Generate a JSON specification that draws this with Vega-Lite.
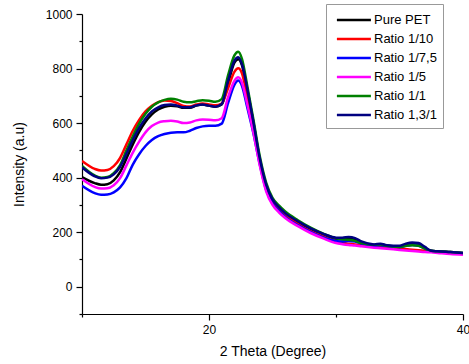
{
  "$schema": "https://vega.github.io/schema/vega-lite/v6.json",
  "width": 381,
  "height": 300,
  "autosize": {"type": "none"},
  "padding": {"left": 82, "top": 14, "right": 6, "bottom": 50},
  "background": "white",
  "config": {"view": {"stroke": null}, "font": "Liberation Sans"},
  "data": {"values": [
    {"x": 10, "Pure PET": 402, "Ratio 1/10": 461, "Ratio 1/7,5": 370, "Ratio 1/5": 394, "Ratio 1/1": 443, "Ratio 1,3/1": 438},
    {"x": 11, "Pure PET": 380, "Ratio 1/10": 432, "Ratio 1/7,5": 343, "Ratio 1/5": 366, "Ratio 1/1": 408, "Ratio 1,3/1": 405},
    {"x": 11.5, "Pure PET": 374, "Ratio 1/10": 426, "Ratio 1/7,5": 337, "Ratio 1/5": 360, "Ratio 1/1": 400, "Ratio 1,3/1": 398},
    {"x": 12, "Pure PET": 376, "Ratio 1/10": 428, "Ratio 1/7,5": 338, "Ratio 1/5": 361, "Ratio 1/1": 402, "Ratio 1,3/1": 400},
    {"x": 12.5, "Pure PET": 390, "Ratio 1/10": 442, "Ratio 1/7,5": 346, "Ratio 1/5": 372, "Ratio 1/1": 416, "Ratio 1,3/1": 412},
    {"x": 13, "Pure PET": 420, "Ratio 1/10": 472, "Ratio 1/7,5": 364, "Ratio 1/5": 398, "Ratio 1/1": 446, "Ratio 1,3/1": 440},
    {"x": 13.5, "Pure PET": 470, "Ratio 1/10": 522, "Ratio 1/7,5": 398, "Ratio 1/5": 445, "Ratio 1/1": 500, "Ratio 1,3/1": 488},
    {"x": 14, "Pure PET": 522, "Ratio 1/10": 572, "Ratio 1/7,5": 448, "Ratio 1/5": 492, "Ratio 1/1": 552, "Ratio 1,3/1": 538},
    {"x": 14.5, "Pure PET": 568, "Ratio 1/10": 612, "Ratio 1/7,5": 486, "Ratio 1/5": 532, "Ratio 1/1": 598, "Ratio 1,3/1": 582},
    {"x": 15, "Pure PET": 605, "Ratio 1/10": 643, "Ratio 1/7,5": 516, "Ratio 1/5": 566, "Ratio 1/1": 634, "Ratio 1,3/1": 617},
    {"x": 15.5, "Pure PET": 632, "Ratio 1/10": 664, "Ratio 1/7,5": 538, "Ratio 1/5": 589, "Ratio 1/1": 660, "Ratio 1,3/1": 643},
    {"x": 16, "Pure PET": 650, "Ratio 1/10": 677, "Ratio 1/7,5": 552, "Ratio 1/5": 602, "Ratio 1/1": 676, "Ratio 1,3/1": 658},
    {"x": 16.5, "Pure PET": 660, "Ratio 1/10": 683, "Ratio 1/7,5": 560, "Ratio 1/5": 607, "Ratio 1/1": 685, "Ratio 1,3/1": 666},
    {"x": 17, "Pure PET": 664, "Ratio 1/10": 681, "Ratio 1/7,5": 565, "Ratio 1/5": 609, "Ratio 1/1": 689, "Ratio 1,3/1": 668},
    {"x": 17.5, "Pure PET": 662, "Ratio 1/10": 673, "Ratio 1/7,5": 566, "Ratio 1/5": 606, "Ratio 1/1": 686, "Ratio 1,3/1": 664},
    {"x": 18, "Pure PET": 656, "Ratio 1/10": 663, "Ratio 1/7,5": 566, "Ratio 1/5": 600, "Ratio 1/1": 678, "Ratio 1,3/1": 658},
    {"x": 18.5, "Pure PET": 656, "Ratio 1/10": 661, "Ratio 1/7,5": 572, "Ratio 1/5": 602, "Ratio 1/1": 676, "Ratio 1,3/1": 658},
    {"x": 19, "Pure PET": 664, "Ratio 1/10": 668, "Ratio 1/7,5": 582, "Ratio 1/5": 610, "Ratio 1/1": 680, "Ratio 1,3/1": 665},
    {"x": 19.5, "Pure PET": 668, "Ratio 1/10": 672, "Ratio 1/7,5": 588, "Ratio 1/5": 613, "Ratio 1/1": 684, "Ratio 1,3/1": 668},
    {"x": 20, "Pure PET": 664, "Ratio 1/10": 668, "Ratio 1/7,5": 590, "Ratio 1/5": 612, "Ratio 1/1": 682, "Ratio 1,3/1": 664},
    {"x": 20.5, "Pure PET": 660, "Ratio 1/10": 665, "Ratio 1/7,5": 590, "Ratio 1/5": 610, "Ratio 1/1": 678, "Ratio 1,3/1": 660},
    {"x": 21, "Pure PET": 668, "Ratio 1/10": 672, "Ratio 1/7,5": 598, "Ratio 1/5": 618, "Ratio 1/1": 688, "Ratio 1,3/1": 670},
    {"x": 21.5, "Pure PET": 745, "Ratio 1/10": 728, "Ratio 1/7,5": 673, "Ratio 1/5": 695, "Ratio 1/1": 775, "Ratio 1,3/1": 755},
    {"x": 22, "Pure PET": 822, "Ratio 1/10": 788, "Ratio 1/7,5": 740, "Ratio 1/5": 755, "Ratio 1/1": 848, "Ratio 1,3/1": 828},
    {"x": 22.3, "Pure PET": 834, "Ratio 1/10": 801, "Ratio 1/7,5": 756, "Ratio 1/5": 768, "Ratio 1/1": 862, "Ratio 1,3/1": 841},
    {"x": 22.6, "Pure PET": 812, "Ratio 1/10": 782, "Ratio 1/7,5": 736, "Ratio 1/5": 748, "Ratio 1/1": 835, "Ratio 1,3/1": 815},
    {"x": 23, "Pure PET": 725, "Ratio 1/10": 700, "Ratio 1/7,5": 660, "Ratio 1/5": 672, "Ratio 1/1": 740, "Ratio 1,3/1": 728},
    {"x": 23.5, "Pure PET": 600, "Ratio 1/10": 585, "Ratio 1/7,5": 562, "Ratio 1/5": 565, "Ratio 1/1": 612, "Ratio 1,3/1": 602},
    {"x": 24, "Pure PET": 465, "Ratio 1/10": 460, "Ratio 1/7,5": 448, "Ratio 1/5": 445, "Ratio 1/1": 478, "Ratio 1,3/1": 470},
    {"x": 24.5, "Pure PET": 372, "Ratio 1/10": 368, "Ratio 1/7,5": 355, "Ratio 1/5": 350, "Ratio 1/1": 382, "Ratio 1,3/1": 374},
    {"x": 25, "Pure PET": 318, "Ratio 1/10": 314, "Ratio 1/7,5": 305, "Ratio 1/5": 300, "Ratio 1/1": 326, "Ratio 1,3/1": 320},
    {"x": 25.5, "Pure PET": 290, "Ratio 1/10": 285, "Ratio 1/7,5": 278, "Ratio 1/5": 273, "Ratio 1/1": 298, "Ratio 1,3/1": 292},
    {"x": 26, "Pure PET": 268, "Ratio 1/10": 263, "Ratio 1/7,5": 256, "Ratio 1/5": 252, "Ratio 1/1": 276, "Ratio 1,3/1": 270},
    {"x": 27, "Pure PET": 238, "Ratio 1/10": 230, "Ratio 1/7,5": 226, "Ratio 1/5": 222, "Ratio 1/1": 244, "Ratio 1,3/1": 240},
    {"x": 28, "Pure PET": 212, "Ratio 1/10": 204, "Ratio 1/7,5": 201, "Ratio 1/5": 197, "Ratio 1/1": 217, "Ratio 1,3/1": 214},
    {"x": 29, "Pure PET": 192, "Ratio 1/10": 184, "Ratio 1/7,5": 181, "Ratio 1/5": 177, "Ratio 1/1": 195, "Ratio 1,3/1": 194},
    {"x": 30, "Pure PET": 176, "Ratio 1/10": 167, "Ratio 1/7,5": 168, "Ratio 1/5": 160, "Ratio 1/1": 178, "Ratio 1,3/1": 180},
    {"x": 30.5, "Pure PET": 174, "Ratio 1/10": 161, "Ratio 1/7,5": 166, "Ratio 1/5": 156, "Ratio 1/1": 174, "Ratio 1,3/1": 180},
    {"x": 31, "Pure PET": 176, "Ratio 1/10": 158, "Ratio 1/7,5": 168, "Ratio 1/5": 153, "Ratio 1/1": 172, "Ratio 1,3/1": 182},
    {"x": 31.5, "Pure PET": 172, "Ratio 1/10": 155, "Ratio 1/7,5": 166, "Ratio 1/5": 151, "Ratio 1/1": 168, "Ratio 1,3/1": 178},
    {"x": 32, "Pure PET": 162, "Ratio 1/10": 152, "Ratio 1/7,5": 158, "Ratio 1/5": 148, "Ratio 1/1": 160, "Ratio 1,3/1": 166},
    {"x": 33, "Pure PET": 152, "Ratio 1/10": 147, "Ratio 1/7,5": 150, "Ratio 1/5": 143, "Ratio 1/1": 154, "Ratio 1,3/1": 155},
    {"x": 33.5, "Pure PET": 156, "Ratio 1/10": 145, "Ratio 1/7,5": 152, "Ratio 1/5": 141, "Ratio 1/1": 155, "Ratio 1,3/1": 158},
    {"x": 34, "Pure PET": 150, "Ratio 1/10": 143, "Ratio 1/7,5": 148, "Ratio 1/5": 139, "Ratio 1/1": 150, "Ratio 1,3/1": 152},
    {"x": 35, "Pure PET": 148, "Ratio 1/10": 140, "Ratio 1/7,5": 145, "Ratio 1/5": 135, "Ratio 1/1": 146, "Ratio 1,3/1": 150},
    {"x": 35.5, "Pure PET": 154, "Ratio 1/10": 138, "Ratio 1/7,5": 150, "Ratio 1/5": 133, "Ratio 1/1": 150, "Ratio 1,3/1": 158},
    {"x": 36, "Pure PET": 158, "Ratio 1/10": 136, "Ratio 1/7,5": 153, "Ratio 1/5": 131, "Ratio 1/1": 152, "Ratio 1,3/1": 162},
    {"x": 36.5, "Pure PET": 156, "Ratio 1/10": 134, "Ratio 1/7,5": 150, "Ratio 1/5": 129, "Ratio 1/1": 150, "Ratio 1,3/1": 160},
    {"x": 37, "Pure PET": 142, "Ratio 1/10": 132, "Ratio 1/7,5": 140, "Ratio 1/5": 127, "Ratio 1/1": 140, "Ratio 1,3/1": 146},
    {"x": 37.5, "Pure PET": 132, "Ratio 1/10": 130, "Ratio 1/7,5": 130, "Ratio 1/5": 126, "Ratio 1/1": 132, "Ratio 1,3/1": 132},
    {"x": 38, "Pure PET": 130, "Ratio 1/10": 128, "Ratio 1/7,5": 128, "Ratio 1/5": 124, "Ratio 1/1": 130, "Ratio 1,3/1": 130},
    {"x": 39, "Pure PET": 127, "Ratio 1/10": 124, "Ratio 1/7,5": 125, "Ratio 1/5": 120, "Ratio 1/1": 127, "Ratio 1,3/1": 127},
    {"x": 40, "Pure PET": 124, "Ratio 1/10": 120, "Ratio 1/7,5": 121, "Ratio 1/5": 117, "Ratio 1/1": 124, "Ratio 1,3/1": 124}
  ]},
  "transform": [
    {"fold": ["Pure PET", "Ratio 1/10", "Ratio 1/7,5", "Ratio 1/5", "Ratio 1/1", "Ratio 1,3/1"], "as": ["series", "intensity"]}
  ],
  "mark": {"type": "line", "interpolate": "monotone", "strokeWidth": 2.5, "clip": true},
  "encoding": {
    "x": {
      "field": "x", "type": "quantitative",
      "scale": {"domain": [10, 40], "nice": false, "zero": false},
      "axis": {
        "title": "2 Theta (Degree)",
        "values": [10, 20, 30, 40],
        "labelExpr": "(datum.value == 20 || datum.value == 40) ? datum.label : ''",
        "tickSize": {"condition": {"test": "datum.value == 20 || datum.value == 40", "value": 6}, "value": 3},
        "grid": false, "domainColor": "black", "tickColor": "black", "domainWidth": 1.2, "tickWidth": 1.2,
        "labelFontSize": 12, "labelColor": "black", "labelPadding": 4, "labelFlush": false,
        "titleFontSize": 14, "titleFontWeight": "normal", "titleColor": "black", "titlePadding": 9
      }
    },
    "y": {
      "field": "intensity", "type": "quantitative",
      "scale": {"domain": [-100, 1000], "nice": false, "zero": false},
      "axis": {
        "title": "Intensity (a.u)",
        "values": [-100, 0, 100, 200, 300, 400, 500, 600, 700, 800, 900, 1000],
        "format": "d",
        "labelExpr": "(datum.value % 200 == 0) ? datum.label : ''",
        "tickSize": {"condition": {"test": "datum.value % 200 == 0", "value": 6}, "value": 3},
        "grid": false, "domainColor": "black", "tickColor": "black", "domainWidth": 1.2, "tickWidth": 1.2,
        "labelFontSize": 12, "labelColor": "black", "labelPadding": 4, "labelFlush": false,
        "titleFontSize": 14, "titleFontWeight": "normal", "titleColor": "black", "titlePadding": 19
      }
    },
    "color": {
      "field": "series", "type": "nominal",
      "scale": {
        "domain": ["Pure PET", "Ratio 1/10", "Ratio 1/7,5", "Ratio 1/5", "Ratio 1/1", "Ratio 1,3/1"],
        "range": ["#000000", "#ff0000", "#0000ff", "#ff00ff", "#008000", "#000080"]
      },
      "legend": {
        "orient": "none", "legendX": 244, "legendY": -10, "title": null,
        "symbolType": "M-0.6,0H3.4", "symbolSize": 289, "symbolStrokeWidth": 2.5,
        "labelFontSize": 13, "labelFont": "Liberation Sans", "labelColor": "black", "labelOffset": 22,
        "strokeColor": "#999999", "fillColor": "white", "padding": 6, "rowPadding": 2
      }
    }
  }
}
